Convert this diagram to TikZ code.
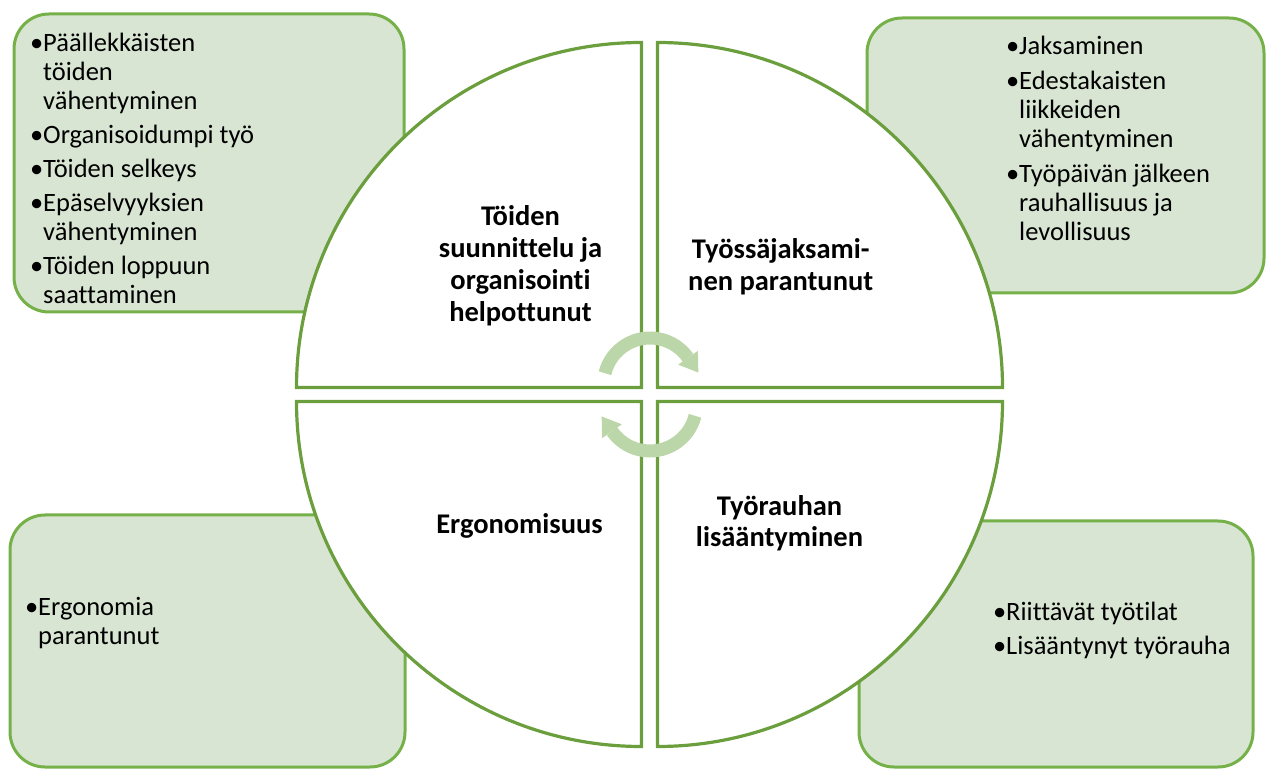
\documentclass[tikz,border=0pt]{standalone}
\usepackage{fontspec}
\setmainfont[Ligatures={NoCommon,NoContextual}]{Carlito}
\usetikzlibrary{calc}

\definecolor{quadline}{RGB}{107,158,60}
\definecolor{boxline}{RGB}{117,176,73}
\definecolor{boxfill}{RGB}{217,229,211}
\definecolor{cyclecol}{RGB}{187,214,169}

\newcommand{\bul}{\makebox[13pt][l]{•}}

\tikzset{
  infobox/.style={draw=boxline, fill=boxfill, line width=3pt, rounded corners=35pt},
  quadrant/.style={draw=quadline, fill=white, line width=3.2pt, line join=miter},
  itemtext/.style={anchor=base west, inner sep=0pt, font=\fontsize{26.5}{29}\selectfont},
  quadlabel/.style={anchor=base, inner sep=0pt, font=\fontsize{28.5}{31.7}\selectfont\bfseries},
  cyclearc/.style={draw=cyclecol, line width=13pt, line cap=butt},
  cyclehead/.style={fill=cyclecol}
}

\begin{document}
\begin{tikzpicture}[x=1pt,y=1pt]
\useasboundingbox (0,0) rectangle (1266,769);

% outer boxes with the detail lists
\path[infobox] (14,457) rectangle (404,755);
\path[infobox] (867,476) rectangle (1264,751);
\path[infobox] (10,2) rectangle (405,254);
\path[infobox] (859,2) rectangle (1253,248);

% the four quarter circles
\path[quadrant] (641.5,381.5) -- ++(-345pt,0) arc[start angle=180, end angle=90, radius=345pt] -- cycle;
\path[quadrant] (657.5,381.5) -- ++(0,345pt) arc[start angle=90, end angle=0, radius=345pt] -- cycle;
\path[quadrant] (641.5,367.5) -- ++(0,-345pt) arc[start angle=270, end angle=180, radius=345pt] -- cycle;
\path[quadrant] (657.5,367.5) -- ++(345pt,0) arc[start angle=0, end angle=-90, radius=345pt] -- cycle;

% circular arrows in the middle
\coordinate (c1) at (650,384.6);
\coordinate (c2) at (650,364.4);
\draw[cyclearc] ([shift={(c1)}]166:46.4pt) arc[start angle=166, end angle=35, radius=46.4pt];
\fill[cyclehead] ([shift={(c1)}]35:58.4pt) -- ([shift={(c1)}]35:34.4pt)
  -- ($([shift={(c1)}]35:46.4pt)+(-55:18pt)$) -- cycle;
\draw[cyclearc] ([shift={(c2)}]346:46.4pt) arc[start angle=346, end angle=215, radius=46.4pt];
\fill[cyclehead] ([shift={(c2)}]215:58.4pt) -- ([shift={(c2)}]215:34.4pt)
  -- ($([shift={(c2)}]215:46.4pt)+(125:18pt)$) -- cycle;

% quadrant titles
\node[quadlabel] (tl) at (520.5,543) {\begin{tabular}[t]{@{}c@{}}Töiden\\suunnittelu ja\\organisointi\\helpottunut\end{tabular}};
\node[quadlabel] (tr) at (780.7,510.5) {\begin{tabular}[t]{@{}c@{}}Työssäjaksami-\\nen parantunut\end{tabular}};
\node[quadlabel] (bl) at (519.5,235.7) {Ergonomisuus};
\node[quadlabel] (br) at (779.5,254) {\begin{tabular}[t]{@{}c@{}}Työrauhan\\lisääntyminen\end{tabular}};

% detail lists
\node[itemtext] (tllist) at (30,717.3) {\begin{tabular}[t]{@{}l@{}l@{}}
\bul & Päällekkäisten\\ & töiden\\ & vähentyminen\\[5pt]
\bul & Organisoidumpi työ\\[5pt]
\bul & Töiden selkeys\\[5pt]
\bul & Epäselvyyksien\\ & vähentyminen\\[5pt]
\bul & Töiden loppuun\\ & saattaminen
\end{tabular}};
\node[itemtext] (trlist) at (1006,714) {\begin{tabular}[t]{@{}l@{}l@{}}
\bul & Jaksaminen\\[6pt]
\bul & Edestakaisten\\ & liikkeiden\\ & vähentyminen\\[6pt]
\bul & Työpäivän jälkeen\\ & rauhallisuus ja\\ & levollisuus
\end{tabular}};
\node[itemtext] (bllist) at (25,154) {\begin{tabular}[t]{@{}l@{}l@{}}
\bul & Ergonomia\\ & parantunut
\end{tabular}};
\node[itemtext] (brlist) at (993,149) {\begin{tabular}[t]{@{}l@{}l@{}}
\bul & Riittävät työtilat\\[5pt]
\bul & Lisääntynyt työrauha
\end{tabular}};
\end{tikzpicture}
\end{document}
